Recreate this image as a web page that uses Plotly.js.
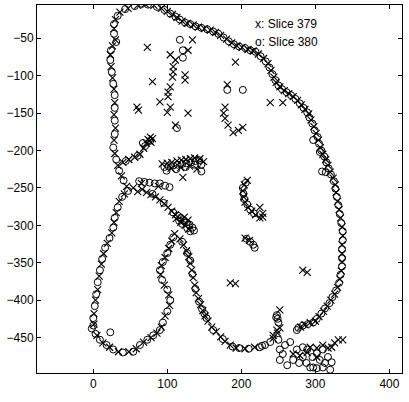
<!DOCTYPE html>
<html>
<head>
<meta charset="utf-8">
<script src="https://cdn.plot.ly/plotly-3.0.1.min.js"></script>
<style>html,body{margin:0;padding:0;background:#fff}#chart{width:409px;height:402px}</style>
</head>
<body>
<div id="chart"></div>
<script>
// Slice 379 (x markers)
const x379 = [
  // left outer contour and bottom-left loop
  60,47,36,30,28,30,26,23,24,26,28,29,28,30,28,29,33,38,45,42,35,31,28,25,19,14,11,8,6,3,1,1,5,13,22,34,48,58,68,78,86,92,97,103,102,96,91,92,97,102,106,110,
  // right outer contour
  70,82,92,100,107,113,120,127,135,142,150,158,165,172,180,187,194,201,209,216,223,230,236,240,244,247,252,258,264,270,276,281,286,291,294,298,301,304,307,310,314,317,320,324,327,328,330,332,334,336,337,336,336,336,335,333,330,326,321,316,311,305,300,293,286,280,
  // upper K branch
  40,48,56,63,68,72,76,80,74,78,
  // middle blob
  93,100,106,113,119,125,131,137,144,149,105,118,130,121,140,
  // lower K branch
  54,60,66,72,78,84,90,96,101,106,111,65,88,
  // oval
  112,118,124,129,123,128,
  // right descending strand and bottom
  117,122,126,129,131,133,135,137,139,142,145,148,151,155,160,166,172,178,185,193,205,218,243,249,252,
  // right interior curve
  208,204,202,203,205,209,214,219,225,229,225,229,205,211,
  // scattered interior
  73,134,128,104,111,108,108,107,124,124,80,104,101,101,90,59,61,104,100,128,111,77,192,181,178,176,178,182,189,196,202,239,256,
  // bottom right
  252,243,248,283,289,185,192,293,302,310,317,322,331,337,302,279,289,270,326
];
const y379 = [
  -6,-10,-15,-25,-37,-52,-60,-72,-88,-103,-118,-136,-152,-170,-186,-204,-220,-234,-248,-258,-268,-283,-296,-310,-324,-338,-352,-368,-386,-400,-418,-432,-447,-457,-463,-469,-469,-465,-456,-450,-444,-436,-421,-407,-393,-380,-366,-354,-343,-331,-321,-311,
  -4,-6,-10,-14,-18,-22,-27,-30,-32,-35,-37,-39,-42,-46,-51,-56,-60,-62,-65,-67,-71,-77,-84,-93,-102,-109,-115,-120,-124,-128,-133,-139,-145,-151,-159,-168,-177,-186,-196,-205,-212,-220,-229,-237,-246,-256,-268,-279,-290,-302,-314,-326,-338,-349,-361,-372,-383,-392,-400,-408,-415,-422,-428,-430,-433,-436,
  -216,-212,-209,-205,-197,-190,-187,-184,-185,-189,
  -218,-217,-216,-214,-213,-212,-211,-210,-211,-215,-224,-223,-221,-236,-225,
  -250,-255,-252,-256,-259,-262,-266,-271,-276,-281,-286,-244,-248,
  -291,-296,-300,-305,-289,-293,
  -318,-326,-334,-342,-351,-360,-370,-380,-390,-398,-406,-414,-421,-428,-436,-442,-449,-455,-460,-464,-465,-463,-451,-444,-437,
  -240,-246,-254,-262,-269,-276,-281,-286,-290,-284,-276,-289,-317,-320,
  -62,-52,-66,-72,-79,-88,-95,-102,-99,-106,-108,-115,-122,-128,-135,-142,-146,-142,-149,-150,-166,-182,-82,-112,-142,-150,-157,-166,-176,-173,-169,-136,-136,
  -413,-447,-440,-360,-363,-377,-378,-463,-464,-460,-464,-463,-453,-453,-476,-474,-470,-472,-457
];
// Slice 380 (o markers)
const x380 = [
  66,56,43,33,28,28,31,24,23,25,27,29,29,29,29,27,31,35,41,47,39,33,29,27,22,16,12,9,6,4,2,0,-2,3,9,18,27,40,54,63,73,81,90,94,100,104,100,93,90,94,100,104,108,23,0,
  74,86,96,104,111,117,124,131,138,146,154,162,169,176,183,190,197,205,212,219,226,233,238,242,246,250,255,261,267,273,279,284,289,292,296,299,303,305,308,312,315,318,321,325,327,329,331,333,335,337,337,336,336,336,334,332,328,323,319,313,308,302,297,290,283,277,275,309,314,297,306,
  44,60,70,77,67,
  96,102,108,114,120,126,132,138,143,99,112,125,137,146,146,
  62,69,76,83,90,97,103,80,95,108,
  114,118,122,126,130,134,136,120,127,116,131,
  120,127,131,134,138,143,147,150,153,162,175,188,197,210,225,232,239,228,
  206,202,203,204,208,212,217,207,212,216,218,
  117,121,121,113,181,202,
  248,249,250,247,252,252,262,270,275,283,289,296,302,306,297,310,320,322,317,310,283,293,302,259,266,250,256,278,288,313
];
const y380 = [
  -4,-7,-11,-20,-31,-44,-55,-66,-79,-95,-111,-126,-143,-160,-178,-196,-212,-227,-240,-254,-262,-276,-290,-303,-317,-330,-345,-360,-376,-392,-408,-424,-438,-445,-453,-460,-466,-470,-469,-460,-453,-447,-440,-430,-415,-400,-386,-373,-360,-349,-337,-326,-316,-443,-434,
  -5,-8,-12,-17,-21,-25,-29,-31,-34,-36,-38,-41,-44,-49,-54,-58,-61,-63,-66,-68,-74,-81,-89,-98,-106,-113,-118,-122,-126,-131,-137,-143,-149,-156,-164,-173,-182,-191,-200,-208,-216,-224,-232,-241,-251,-262,-273,-285,-297,-308,-320,-332,-344,-355,-366,-377,-387,-396,-404,-411,-418,-425,-430,-432,-434,-437,-440,-228,-229,-186,-202,
  -214,-207,-194,-187,-190,
  -222,-221,-220,-219,-218,-217,-216,-214,-213,-227,-225,-222,-219,-219,-228,
  -241,-242,-243,-244,-244,-247,-249,-258,-270,-283,
  -287,-290,-293,-296,-299,-303,-307,-298,-304,-294,-308,
  -322,-337,-347,-365,-385,-402,-412,-418,-424,-440,-452,-462,-464,-465,-463,-460,-456,-461,
  -243,-250,-258,-265,-272,-279,-284,-318,-322,-326,-330,
  -52,-66,-76,-170,-119,-119,
  -420,-425,-430,-423,-466,-480,-487,-480,-466,-476,-466,-476,-471,-480,-490,-490,-493,-483,-476,-466,-463,-490,-491,-460,-456,-453,-472,-484,-484,-484
];
const xTicks = [0, 100, 200, 300, 400];
const yTicks = [-450, -400, -350, -300, -250, -200, -150, -100, -50];
const labels = ['x: Slice 379', 'o: Slice 380'];

const traces = [
  {x: x379, y: y379, type: 'scatter', mode: 'markers', name: 'Slice 379',
   marker: {symbol: 'x-thin-open', size: 7, color: 'black', line: {color: 'black', width: 1.1}}},
  {x: x380, y: y380, type: 'scatter', mode: 'markers', name: 'Slice 380',
   marker: {symbol: 'circle-open', size: 7, color: 'black', line: {color: 'black', width: 1}}}
];
const axisCommon = {showgrid: false, zeroline: false, showline: true, linecolor: 'black', linewidth: 1,
  ticks: 'inside', ticklen: 4, tickcolor: 'black', mirror: 'ticks', tickfont: {size: 12, color: 'black'}};
const layout = {
  width: 409, height: 402,
  margin: {l: 37, r: 7, t: 5, b: 29, pad: 0},
  paper_bgcolor: 'white', plot_bgcolor: 'white',
  font: {family: 'Liberation Sans, Arial, sans-serif', size: 12, color: 'black'},
  showlegend: false,
  xaxis: Object.assign({}, axisCommon, {range: [-76, 417], tickvals: xTicks}),
  yaxis: Object.assign({}, axisCommon, {range: [-497.4, -5.5], tickvals: yTicks}),
  annotations: [
    {text: labels[0], xref: 'paper', yref: 'paper', x: 0.592, y: 0.948, xanchor: 'left', yanchor: 'middle', showarrow: false, font: {size: 12}},
    {text: labels[1], xref: 'paper', yref: 'paper', x: 0.592, y: 0.899, xanchor: 'left', yanchor: 'middle', showarrow: false, font: {size: 12}}
  ]
};
Plotly.newPlot('chart', traces, layout, {staticPlot: true, displayModeBar: false});
</script>
</body>
</html>
